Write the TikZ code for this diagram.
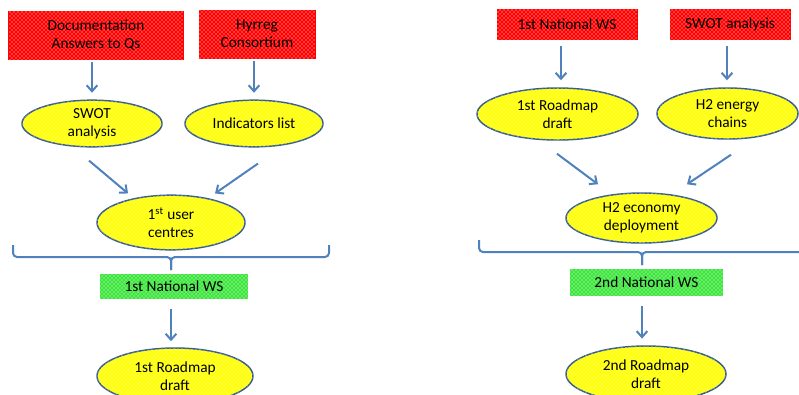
\documentclass[tikz,border=0pt]{standalone}
\usepackage{fontspec}
\setmainfont{Carlito}
\usetikzlibrary{arrows.meta,calc,patterns,shapes.geometric}

\definecolor{linkblue}{HTML}{4F81BD}
\definecolor{rimblue}{HTML}{385D8A}
\definecolor{boxred}{HTML}{FF0000}
\definecolor{ovalyellow}{HTML}{FFFF00}
\definecolor{wsgreen}{HTML}{3CE63C}

\tikzset{
  inbox/.style={rectangle,draw=boxred,line width=0.6pt,fill=boxred,
    postaction={pattern=crosshatch dots,pattern color=white},
    align=center,inner sep=1pt},
  oval/.style={ellipse,draw=rimblue,line width=1.1pt,fill=ovalyellow,
    postaction={pattern=crosshatch dots,pattern color=white},
    align=center,inner sep=0pt},
  wsbox/.style={rectangle,fill=wsgreen,
    postaction={pattern=crosshatch dots,pattern color=white},
    align=center,inner sep=1pt},
  link/.style={draw=linkblue,line width=1.5pt,
    -{Straight Barb[length=4.5pt,width=8pt]}},
  brace/.style={draw=linkblue,line width=1.5pt,rounded corners=3pt}
}

\begin{document}
\begin{tikzpicture}[x=0.75pt,y=-0.75pt,font=\fontsize{11.5}{13.4}\selectfont]
\useasboundingbox (0,0) rectangle (799,394);
\clip (0,0) rectangle (799,394);

% first round
\node (docs) at (96,35)[inbox,minimum width=131pt,minimum height=36pt] {Documentation\\Answers to Qs};
\node (hyr) at (257,34)[inbox,minimum width=87pt,minimum height=36pt] {Hyrreg\\Consortium};
\node (swot) at (92,123.5)[oval,minimum width=105pt,minimum height=35pt] {SWOT\\analysis};
\node (ind) at (254,123.5)[oval,minimum width=103.5pt,minimum height=35pt] {Indicators list};
\node (user) at (171,222.5)[oval,minimum width=111pt,minimum height=41pt] {1\textsuperscript{st} user\\centres};
\node (ws1) at (174,286.5)[wsbox,minimum width=111pt,minimum height=18.75pt] {1st National WS};
\node (rm1) at (175,376)[oval,minimum width=117pt,minimum height=42pt] {1st Roadmap\\draft};

% bracket gathering the first round
\coordinate (b1l) at (13,245);
\coordinate (b1r) at (329,245);
\coordinate (b1m) at (171,257);
\coordinate (b1t) at (171,270);

\draw[link,shorten <=2pt,shorten >=5pt] (docs.south -| swot.north) -- (swot.north);
\draw[link,shorten <=2pt,shorten >=5pt] (hyr.south -| ind.north) -- (ind.north);
\draw[link] ($(swot.south)+(-3,13)$) -- ($(user.north)+(-43,-1)$);
\draw[link] ($(ind.south)+(4,16)$) -- ($(user.north)+(44,-1)$);
\draw[brace] (b1l) -- (b1l |- b1m) -- (b1m) -- (b1t);
\draw[brace] (b1r) -- (b1r |- b1m) -- (b1m) -- (b1t);
\draw[link,shorten <=7.5pt,shorten >=4.5pt] ($(ws1.south)+(-3,0)$) -- ($(rm1.north)+(-4,0)$);

% second round
\node (nws) at (567,24.5)[inbox,minimum width=105pt,minimum height=23pt] {1st National WS};
\node (swot2) at (730,24.5)[inbox,minimum width=90pt,minimum height=23pt] {SWOT analysis};
\node (rd) at (557.5,114)[oval,minimum width=120.75pt,minimum height=39pt] {1st Roadmap\\draft};
\node (h2c) at (727.5,113.5)[oval,minimum width=105.75pt,minimum height=38.25pt] {H2 energy\\chains};
\node (h2e) at (641.5,218)[oval,minimum width=113.25pt,minimum height=37.5pt] {H2 economy\\deployment};
\node (ws2) at (646.5,282.5)[wsbox,minimum width=114.75pt,minimum height=20.25pt] {2nd National WS};
\node (rm2) at (646,374)[oval,minimum width=120pt,minimum height=42pt] {2nd Roadmap\\draft};

% bracket gathering the second round
\coordinate (b2l) at (479,240);
\coordinate (b2r) at (805,240);
\coordinate (b2m) at (642,252);
\coordinate (b2t) at (642,265);

\draw[link] ($(nws.south)+(-6,6)$) -- ($(rd.north)+(3.5,-7)$);
\draw[link] ($(swot2.south)+(-3,6)$) -- ($(h2c.north)+(-0.5,-7)$);
\draw[link] ($(rd.south)+(-0.5,13)$) -- ($(h2e.north)+(-43.5,-8)$);
\draw[link] ($(h2c.south)+(3.5,15)$) -- ($(h2e.north)+(45.5,-8)$);
\draw[brace] (b2l) -- (b2l |- b2m) -- (b2m) -- (b2t);
\draw[brace] (b2r) -- (b2r |- b2m) -- (b2m) -- (b2t);
\draw[link,shorten <=7pt,shorten >=5pt] ($(ws2.south)+(-4.5,0)$) -- ($(rm2.north)+(-4,0)$);
\end{tikzpicture}
\end{document}
